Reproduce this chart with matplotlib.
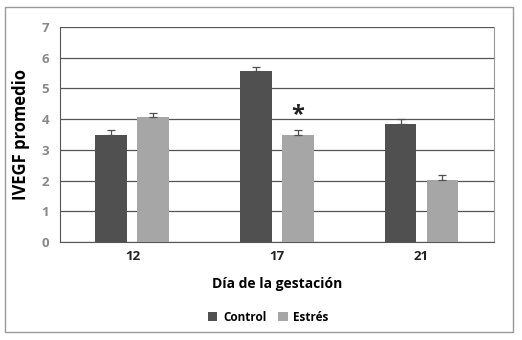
import numpy as np
import matplotlib.pyplot as plt
from matplotlib.patches import Rectangle

days = ["12", "17", "21"]
control = [3.48, 5.55, 3.84]
estres = [4.06, 3.48, 2.02]
control_err = [0.15, 0.15, 0.15]
estres_err = [0.15, 0.15, 0.15]

plt.rcParams['font.family'] = ['Open Sans', 'DejaVu Sans']

fig = plt.figure(figsize=(5.22, 3.40), dpi=100)
ax = fig.add_axes([0.115, 0.288, 0.831, 0.633])

x = np.arange(len(days))
w = 0.22
gap = 0.035
ekw = dict(ecolor='#505050', capsize=3, lw=0.9, capthick=0.9)
# upper error bars only
ax.bar(x - w/2 - gap, control, w, color='#505050', label='Control', zorder=3,
       yerr=[np.zeros(3), control_err], error_kw=ekw)
ax.bar(x + w/2 + gap, estres, w, color='#a6a6a6', label='Estrés', zorder=3,
       yerr=[np.zeros(3), estres_err], error_kw=ekw)

# significance mark
ax.text(x[1] + w/2 + gap, estres[1] + estres_err[1] + 0.1, '*', ha='center', va='bottom',
        fontsize=17, fontweight='bold', color='#222222')

ax.set_xlim(-0.5, 2.5)
ax.set_ylim(0, 7)
ax.set_yticks(range(0, 8))
ax.yaxis.grid(True, color='#555555', lw=0.9, zorder=0)
ax.set_axisbelow(True)
ax.tick_params(axis='both', length=0)
ax.set_xticks(x)
ax.set_xticklabels(days, fontsize=9.5, fontweight='bold', color='#222222')
for lab in ax.get_yticklabels():
    lab.set_fontsize(9.5)
    lab.set_fontweight('bold')
    lab.set_color('#888888')
ax.tick_params(axis='y', pad=8)
ax.tick_params(axis='x', pad=6)

ax.spines['top'].set_visible(False)
ax.spines['left'].set_color('#555555')
ax.spines['bottom'].set_color('#555555')
ax.spines['right'].set_color('#999999')

ax.set_ylabel('IVEGF promedio', fontsize=12, fontweight='bold', labelpad=8)
ax.set_xlabel('Día de la gestación', fontsize=10, fontweight='bold', labelpad=10)

ax.legend(loc='upper center', bbox_to_anchor=(0.48, -0.27), ncol=2, frameon=False,
          prop=dict(weight='bold', size=8.5), handlelength=0.8, handleheight=0.8,
          columnspacing=1.0, handletextpad=0.5)

fig.patches.append(Rectangle((0.01, 0.025), 0.972, 0.955, transform=fig.transFigure,
                             fill=False, edgecolor='#999999', lw=1))

fig.savefig('out.png', dpi=100)
